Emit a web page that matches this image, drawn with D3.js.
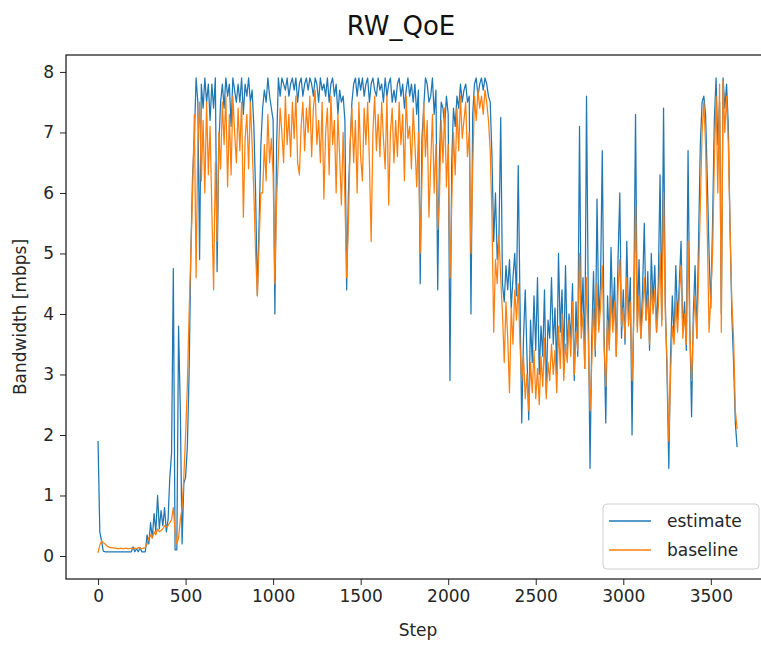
<!DOCTYPE html>
<html>
<head>
<meta charset="utf-8">
<script src="https://cdn.jsdelivr.net/npm/d3@7"></script>
<style>
  body { margin: 0; background: #fff; }
  svg { display: block; font-family: "DejaVu Sans", sans-serif; }
  .tick text { font-size: 17px; fill: #262626; }
  .tick line { stroke: #262626; }
</style>
</head>
<body>
<div id="chart"></div>
<script>
var STEP = 10;

var estimate = [
  1.9,0.4,0.25,0.08,0.07,0.07,0.07,0.07,0.07,0.07,
  0.07,0.07,0.07,0.07,0.07,0.07,0.07,0.07,0.07,0.07,
  0.15,0.07,0.12,0.07,0.14,0.07,0.07,0.07,0.35,0.2,
  0.55,0.3,0.7,0.4,1.0,0.45,0.75,0.5,0.8,0.4,
  0.6,1.3,1.7,4.75,0.1,0.1,3.8,2.4,0.2,1.2,
  1.3,1.8,3.0,5.0,6.3,6.9,7.9,7.5,4.9,7.8,
  7.4,7.9,7.5,7.8,7.2,7.8,7.4,7.9,4.7,6.8,
  7.5,7.8,7.4,7.9,7.6,7.8,7.1,7.9,7.7,7.5,
  7.8,7.5,7.9,7.3,7.8,7.6,7.9,7.5,7.7,7.1,
  6.0,4.3,5.5,6.8,7.4,7.7,7.5,7.9,7.6,7.4,
  7.2,4.0,6.8,7.9,7.6,7.9,7.8,7.7,7.9,7.6,
  7.8,7.9,7.7,7.9,7.5,7.8,7.9,7.6,7.8,7.9,
  7.7,7.9,7.8,7.6,7.9,7.8,7.5,7.9,7.7,7.8,
  7.6,7.9,7.5,7.8,7.9,7.6,7.8,7.3,7.7,7.5,
  7.6,7.2,4.4,6.0,6.8,7.5,7.8,7.9,7.6,7.9,
  7.7,7.9,7.6,7.8,7.9,7.5,7.8,7.9,7.7,7.6,
  7.9,7.7,7.8,7.5,7.9,7.6,7.8,7.9,7.5,7.7,
  7.5,7.8,7.9,7.6,7.8,7.4,7.7,7.9,7.6,7.8,
  7.5,7.8,7.3,7.7,4.5,6.9,7.4,7.9,7.8,7.5,
  7.6,7.9,7.3,7.7,4.4,6.6,7.5,7.4,7.1,7.6,
  7.3,2.9,6.5,7.4,7.1,7.6,7.4,7.8,7.5,7.7,
  7.8,7.5,7.6,4.0,7.3,7.8,7.9,7.6,7.8,7.9,
  7.7,7.9,7.8,7.6,7.5,6.6,5.2,6.0,4.9,5.3,
  7.25,4.5,4.2,4.8,4.4,4.9,4.1,4.6,5.0,4.3,
  6.45,4.2,2.2,3.6,4.4,3.3,2.25,3.9,3.2,4.3,
  3.4,4.6,3.0,3.8,3.3,4.4,2.7,3.9,3.6,4.6,
  3.5,4.1,3.0,5.0,3.7,4.4,3.2,4.8,3.4,4.0,
  3.6,4.5,2.9,4.2,3.3,7.1,3.8,4.6,3.1,7.6,
  4.2,1.45,3.6,4.7,3.3,5.9,3.9,4.5,6.7,3.7,
  2.2,4.3,3.5,5.1,3.9,4.6,3.3,4.9,6.0,3.6,
  4.4,3.5,5.2,3.9,4.6,2.0,4.2,7.3,3.8,4.9,
  3.6,4.4,5.5,3.9,4.7,3.4,5.0,4.2,4.8,3.7,
  4.5,6.3,3.9,7.4,4.2,3.0,1.45,3.3,4.3,3.6,
  4.8,3.9,4.5,5.2,3.7,4.2,3.4,6.7,3.8,2.3,
  4.0,4.8,3.6,5.2,6.8,7.5,7.6,7.3,6.2,5.0,
  4.1,5.5,7.2,7.9,6.8,7.5,4.0,7.9,7.4,7.8,
  7.1,5.4,4.0,3.2,2.2,1.8
];

var baseline = [
  0.05,0.18,0.25,0.22,0.2,0.17,0.15,0.14,0.14,0.13,
  0.13,0.12,0.12,0.13,0.12,0.12,0.13,0.12,0.12,0.13,
  0.12,0.13,0.12,0.14,0.13,0.12,0.13,0.14,0.2,0.3,
  0.35,0.3,0.4,0.35,0.45,0.4,0.42,0.45,0.5,0.48,
  0.5,0.55,0.6,0.8,0.4,0.2,0.3,0.6,0.8,1.3,
  2.0,2.8,4.0,5.0,6.0,7.3,4.6,6.8,7.5,6.2,
  7.2,6.0,7.5,6.3,7.1,5.7,4.4,6.5,5.2,7.0,
  6.4,7.5,6.8,7.6,6.1,7.3,6.3,7.6,7.0,6.5,
  7.4,6.7,7.5,5.6,6.9,7.3,6.4,7.5,6.8,6.0,
  5.0,4.3,5.2,6.0,6.0,6.8,6.2,7.3,6.5,6.9,
  6.3,4.5,5.9,6.6,7.4,7.0,6.5,7.6,6.8,7.3,
  6.6,7.5,6.9,7.6,6.5,6.3,7.1,7.5,6.7,7.4,
  7.0,7.6,6.6,7.4,7.7,6.8,7.2,6.5,7.5,5.9,
  7.0,7.4,6.3,7.6,6.8,7.2,6.0,7.3,6.6,5.8,
  7.0,5.9,4.6,5.5,6.8,7.4,6.5,7.2,6.0,7.5,
  6.6,6.2,7.4,6.8,7.5,6.5,5.2,7.0,7.6,6.7,
  7.3,6.6,7.5,6.9,6.4,7.6,5.8,7.0,7.4,6.5,
  7.2,6.6,7.5,6.8,7.3,6.2,7.6,6.9,7.1,6.4,
  7.4,6.8,6.1,7.0,5.0,6.2,7.5,6.6,7.2,5.6,
  6.5,7.3,6.0,6.8,5.4,5.9,7.2,6.5,7.4,6.1,
  6.8,4.6,5.8,7.0,6.3,7.4,6.7,7.6,6.9,7.2,
  7.5,6.6,7.0,5.0,6.4,7.6,7.2,7.7,7.4,7.6,
  7.3,7.7,7.5,7.2,6.7,5.6,3.7,4.9,4.5,5.3,
  4.6,4.0,3.2,4.2,3.6,2.7,4.1,3.5,4.4,3.9,
  4.5,3.5,2.9,3.3,2.6,3.0,2.4,3.2,2.7,3.4,
  2.6,3.1,2.5,3.3,2.8,3.6,2.6,3.2,2.9,3.5,
  3.0,3.4,2.7,3.8,3.1,4.0,2.9,3.5,3.2,3.9,
  3.3,4.2,3.0,3.7,3.4,5.0,3.6,4.0,3.1,4.6,
  3.6,2.4,3.2,4.1,3.4,4.5,3.7,4.1,4.8,3.5,
  2.8,3.9,3.4,4.3,3.7,4.2,3.3,4.4,4.9,3.8,
  4.1,3.6,4.6,3.8,4.2,2.9,3.9,5.8,3.7,4.3,
  3.6,4.0,4.6,3.9,4.3,3.5,4.5,4.0,4.4,3.7,
  4.1,5.0,3.8,6.0,4.0,3.2,1.9,3.0,3.8,3.5,
  4.2,3.7,4.3,4.8,3.6,4.0,3.5,5.2,3.7,2.9,
  3.8,4.3,3.6,4.6,5.8,7.0,7.5,6.8,5.3,3.7,
  4.3,5.0,6.5,7.6,6.0,7.8,3.7,7.85,7.0,7.6,
  6.8,5.4,4.2,3.6,2.4,2.1
];

var seriesNames = ["estimate", "baseline"];
var seriesColors = ["#1f77b4", "#ff7f0e"];
var xTicks = [0, 500, 1000, 1500, 2000, 2500, 3000, 3500];
var yTicks = [0, 1, 2, 3, 4, 5, 6, 7, 8];

var W = 761, H = 645;
var plot = {left: 66, top: 55, right: 770, bottom: 579};

var svg = d3.select("#chart").append("svg")
  .attr("width", W)
  .attr("height", H);

var xScale = d3.scaleLinear().domain([-183, 3838]).range([plot.left, plot.right]);
var yScale = d3.scaleLinear().domain([-0.38, 8.28]).range([plot.bottom, plot.top]);

svg.append("defs").append("clipPath")
  .attr("id", "clip")
  .append("rect")
  .attr("x", plot.left).attr("y", plot.top)
  .attr("width", plot.right - plot.left)
  .attr("height", plot.bottom - plot.top);

var valueline = d3.line()
  .x(function(d, i) { return xScale(i * STEP); })
  .y(function(d) { return yScale(d); });

[estimate, baseline].forEach(function(s, k) {
  svg.append("path")
    .attr("clip-path", "url(#clip)")
    .attr("d", valueline(s))
    .attr("fill", "none")
    .attr("stroke", seriesColors[k])
    .attr("stroke-width", 1.25)
    .attr("stroke-linejoin", "round");
});

// axes
var xAxis = svg.append("g")
  .attr("transform", "translate(0," + plot.bottom + ")")
  .call(d3.axisBottom(xScale).tickValues(xTicks).tickSize(6).tickPadding(5).tickFormat(d3.format("d")));
xAxis.select(".domain").remove();

var yAxis = svg.append("g")
  .attr("transform", "translate(" + plot.left + ",0)")
  .call(d3.axisLeft(yScale).tickValues(yTicks).tickSize(6).tickPadding(6));
yAxis.select(".domain").remove();

svg.selectAll(".tick text").attr("font-family", "DejaVu Sans, sans-serif");

// frame
svg.append("rect")
  .attr("x", plot.left).attr("y", plot.top)
  .attr("width", plot.right - plot.left)
  .attr("height", plot.bottom - plot.top)
  .attr("fill", "none")
  .attr("stroke", "#111")
  .attr("stroke-width", 1.2);

// labels
svg.append("text")
  .attr("x", 401).attr("y", 35)
  .attr("text-anchor", "middle")
  .attr("font-size", 26)
  .attr("fill", "#111")
  .text("RW_QoE");

svg.append("text")
  .attr("x", 418).attr("y", 636)
  .attr("text-anchor", "middle")
  .attr("font-size", 17)
  .attr("fill", "#262626")
  .text("Step");

svg.append("text")
  .attr("transform", "translate(26," + ((plot.top + plot.bottom) / 2) + ")rotate(-90)")
  .attr("text-anchor", "middle")
  .attr("font-size", 17)
  .attr("fill", "#262626")
  .text("Bandwidth [mbps]");

// legend
var legend = svg.append("g").attr("transform", "translate(603,504)");
legend.append("rect")
  .attr("width", 156).attr("height", 65)
  .attr("rx", 4)
  .attr("fill", "#fff").attr("fill-opacity", 0.8)
  .attr("stroke", "#d0d0d0");
seriesNames.forEach(function(name, k) {
  var yy = 17 + k * 29;
  legend.append("line")
    .attr("x1", 6).attr("x2", 48)
    .attr("y1", yy).attr("y2", yy)
    .attr("stroke", seriesColors[k])
    .attr("stroke-width", 1.5);
  legend.append("text")
    .attr("x", 64).attr("y", yy + 6)
    .attr("font-size", 17)
    .attr("fill", "#262626")
    .text(name);
});
</script>
</body>
</html>
